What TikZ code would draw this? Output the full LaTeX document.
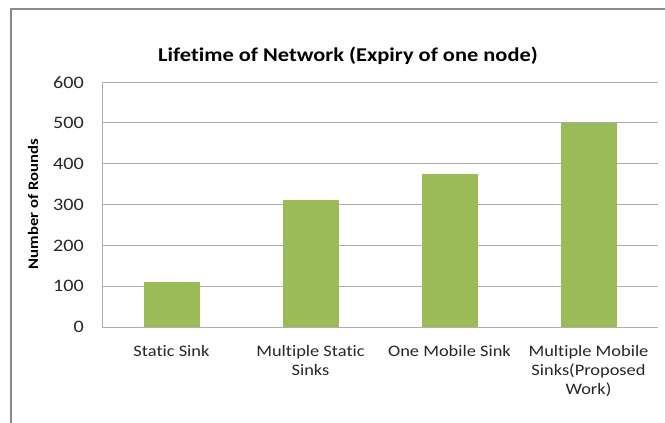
\documentclass[tikz,border=0pt]{standalone}
\usepackage{fontspec}
\setmainfont{Carlito}[Ligatures=CommonOff, FakeStretch=1.15]
\usetikzlibrary{positioning}
\definecolor{bargreen}{HTML}{9BBB59}
\definecolor{gridgray}{HTML}{ADADAD}
\definecolor{framegray}{HTML}{8C8C8C}
\tikzset{
  barG/.style={ fill=bargreen, draw=none }
}
\tikzset{
  gridln/.style={ draw=gridgray, line width=1pt }
}
\tikzset{
  ticklbl/.style={ anchor=east, inner sep=0pt, text=black!85, font=\fontsize{17.5}{20}\selectfont }
}
\tikzset{
  catlbl/.style={ anchor=north, inner sep=0pt, align=center, text=black!85, font=\fontsize{16}{19}\selectfont }
}

\begin{document}
\begin{tikzpicture}[x=1pt, y=-1pt]
      \useasboundingbox (0,0) rectangle (665,423);
      \draw[framegray, line width=1.2pt] (11,423) -- (11,9) -- (665,9);

      \node[font=\bfseries\fontsize{19.5}{22}\selectfont] (title) at (348,56) {Lifetime of Network (Expiry of one node)};

      \foreach \v in {0,100,...,600} {
        \draw[gridln] (102,{327-0.408*\v}) -- (658,{327-0.408*\v});
        \node[ticklbl] (tick\v) at (84,{327-0.408*\v}) {\v};
      }
      \draw[gridln] (102,82) -- (102,327);

      \node[rotate=90, font=\bfseries\fontsize{14.5}{17}\selectfont] (ylab) at (33,204) {Number of Rounds};

      \foreach \i/\val in {0/110, 1/312, 2/375, 3/500} {
        \path[barG] ({143.5+139*\i},327) rectangle ({199.5+139*\i},{327-0.408*\val});
      }
      \draw[gridln] (102,327) -- (658,327);

      \node[catlbl] (cat1) at (171.5,345) {Static Sink};
      \node[catlbl] (cat2) at (310.5,345) {Multiple Static\\Sinks};
      \node[catlbl] (cat3) at (449.5,345) {One Mobile Sink};
      \node[catlbl] (cat4) at (588.5,345) {Multiple Mobile\\Sinks(Proposed\\Work)};
    \end{tikzpicture}
\end{document}
